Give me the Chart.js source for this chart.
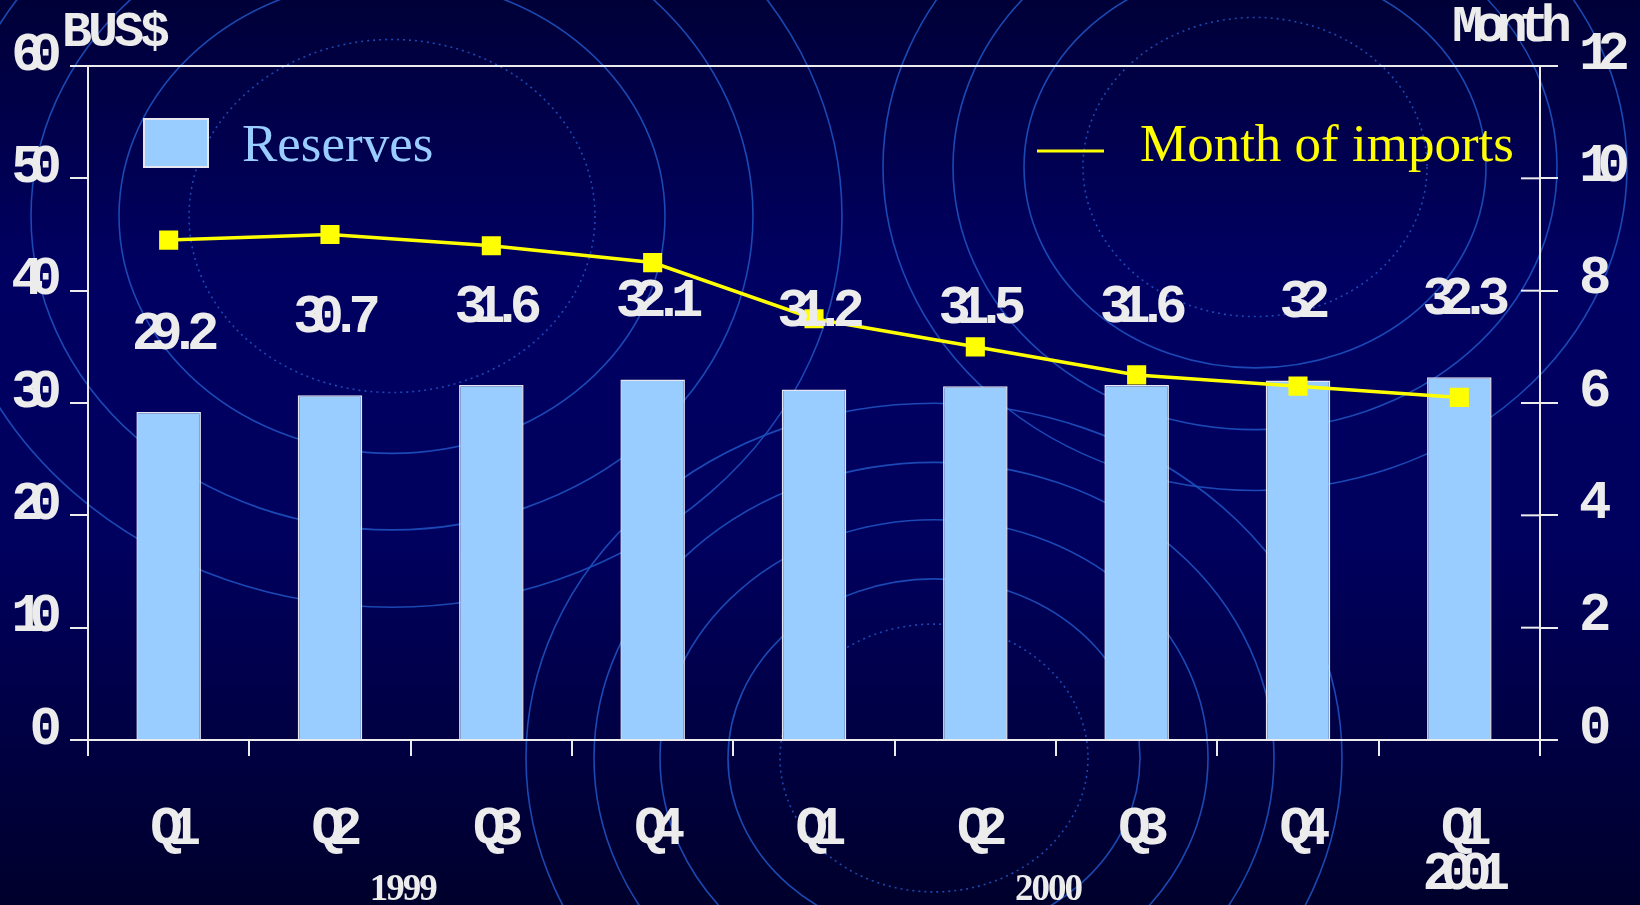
<!DOCTYPE html>
<html><head><meta charset="utf-8">
<script src="https://cdn.jsdelivr.net/npm/chart.js@4"></script>
<style>html,body{margin:0;padding:0;background:#00004a;}canvas{display:block;}</style>
</head><body>
<canvas id="c" width="1640" height="905"></canvas>
<script>
// ---- data ----
const categories = ['Q1','Q2','Q3','Q4','Q1','Q2','Q3','Q4',['Q1','2001']];
const reserves = [29.2,30.7,31.6,32.1,31.2,31.5,31.6,32,32.3];
const monthsOfImports = [8.9,9.0,8.8,8.5,7.5,7.0,6.5,6.3,6.1];
const leftTickValues = [0,10,20,30,40,50,60];
const rightTickValues = [0,2,4,6,8,10,12];
const yearLabels = ['1999','2000'];
const yearBetween = [[1,2],[5,6]];
const leftTitle = 'BUS$';
const rightTitle = 'Month';
const seriesNames = ['Reserves','Month of imports'];

const WHITE = '#ececec';
const FSIZE = 54;
const MONO = 'bold ' + FSIZE + 'px "Liberation Mono"';
const SPACING = '-14px';

const bgPlugin = {
  id:'bg',
  beforeDraw(chart){
    const ctx = chart.ctx, W = chart.width, H = chart.height;
    ctx.save();
    ctx.letterSpacing = '0px';
    const g = ctx.createLinearGradient(0,0,0,H);
    g.addColorStop(0,'#000038');
    g.addColorStop(0.3,'#000062');
    g.addColorStop(0.6,'#00005e');
    g.addColorStop(1,'#00002c');
    ctx.fillStyle = g; ctx.fillRect(0,0,W,H);
    const groups = [
      {cx:392, cy:216, dotted:203, solid:[273,361,450]},
      {cx:1255, cy:167, dotted:172, solid:[231,302,372]},
      {cx:934, cy:758, dotted:154, solid:[206,274,340,408]}
    ];
    ctx.strokeStyle = 'rgba(30,80,190,0.9)';
    ctx.lineWidth = 1.6;
    groups.forEach(gr=>{
      ctx.setLineDash([2,4]);
      ctx.beginPath(); ctx.ellipse(gr.cx,gr.cy,gr.dotted,gr.dotted/1.15,0,0,Math.PI*2); ctx.stroke();
      ctx.setLineDash([]);
      gr.solid.forEach(r=>{ ctx.beginPath(); ctx.ellipse(gr.cx,gr.cy,r,r/1.15,0,0,Math.PI*2); ctx.stroke(); });
    });
    ctx.restore();
    ctx.letterSpacing = SPACING;
  },
  afterDraw(chart){ chart.ctx.letterSpacing = '0px'; }
};

const framePlugin = {
  id:'frame',
  afterDraw(chart){
    const ctx = chart.ctx, a = chart.chartArea;
    const y2 = chart.scales.y2;
    ctx.save();
    ctx.letterSpacing = '0px';
    ctx.strokeStyle = WHITE; ctx.lineWidth = 2;
    ctx.beginPath(); ctx.moveTo(a.left, a.top); ctx.lineTo(a.right, a.top); ctx.stroke();
    y2.ticks.forEach(t=>{
      const py = y2.getPixelForValue(t.value);
      ctx.beginPath(); ctx.moveTo(a.right-19, py); ctx.lineTo(a.right, py); ctx.stroke();
    });
    // titles
    ctx.fillStyle = WHITE;
    ctx.textBaseline = 'middle';
    ctx.font = 'bold 50px "Liberation Mono"';
    ctx.letterSpacing = '-4px';
    ctx.textAlign = 'left';
    ctx.fillText(leftTitle, 62, 33);
    ctx.font = 'bold 52px "Liberation Mono"';
    ctx.letterSpacing = '-9px';
    ctx.textAlign = 'left';
    ctx.fillText(rightTitle, 1452, 28);
    // year labels
    const x = chart.scales.x;
    ctx.letterSpacing = '-2px';
    ctx.font = 'bold 37px "Liberation Serif"';
    ctx.textAlign = 'center';
    yearLabels.forEach((t,i)=>{
      const px = (x.getPixelForValue(yearBetween[i][0]) + x.getPixelForValue(yearBetween[i][1]))/2;
      ctx.fillText(t, px - 8, 890);
    });
    // legend
    ctx.letterSpacing = '0px';
    const barDs = chart.data.datasets[0], lineDs = chart.data.datasets[1];
    ctx.fillStyle = barDs.backgroundColor; ctx.strokeStyle = barDs.borderColor; ctx.lineWidth = 2;
    ctx.fillRect(144,119,64,48); ctx.strokeRect(144,119,64,48);
    ctx.font = '53px "Liberation Serif"';
    ctx.textAlign = 'left';
    ctx.fillStyle = '#99ccff';
    ctx.fillText(barDs.label, 242, 147);
    ctx.strokeStyle = lineDs.borderColor; ctx.lineWidth = 3;
    ctx.beginPath(); ctx.moveTo(1037,151); ctx.lineTo(1104,151); ctx.stroke();
    ctx.fillStyle = '#ffff00';
    ctx.fillText(lineDs.label, 1140, 147);
    ctx.restore();
  }
};

const labelPlugin = {
  id:'vals',
  afterDatasetsDraw(chart){
    const ctx = chart.ctx;
    const meta = chart.getDatasetMeta(0);
    ctx.save();
    ctx.font = MONO; ctx.fillStyle = WHITE;
    ctx.letterSpacing = SPACING;
    ctx.textAlign = 'center'; ctx.textBaseline = 'middle';
    meta.data.forEach((bar,i)=>{
      ctx.fillText(String(reserves[i]), bar.x, bar.y - 77);
    });
    ctx.restore();
  }
};

const tickFont = {family:'"Liberation Mono"', size:FSIZE, weight:'bold'};

new Chart(document.getElementById('c'), {
  data:{
    labels:categories,
    datasets:[
      {type:'bar', label:seriesNames[0], data:reserves, yAxisID:'y', order:2,
       backgroundColor:'#99ccff', borderColor:'#e6e6f0', borderWidth:1.5,
       categoryPercentage:1, barPercentage:0.4},
      {type:'line', label:seriesNames[1], data:monthsOfImports, yAxisID:'y2', order:1,
       borderColor:'#ffff00', borderWidth:3.5, tension:0,
       pointStyle:'rect', pointRadius:13.5, pointHoverRadius:13.5,
       pointBackgroundColor:'#ffff00', pointBorderColor:'#ffff00', pointBorderWidth:0}
    ]
  },
  options:{
    responsive:false, animation:false, devicePixelRatio:1,
    layout:{padding:{top:66, left:0, right:0, bottom:0}},
    plugins:{legend:{display:false}, tooltip:{enabled:false}},
    scales:{
      x:{
        offset:true,
        grid:{display:true, offset:true, drawOnChartArea:false, tickLength:16, color:WHITE, lineWidth:2},
        border:{display:true, color:WHITE, width:2},
        ticks:{color:WHITE, font:Object.assign({lineHeight:0.83}, tickFont), padding:52, maxRotation:0, autoSkip:false},
        afterFit(s){ s.height = 905 - 740; }
      },
      y:{
        position:'left', min:0, max:60,
        afterBuildTicks(s){ s.ticks = leftTickValues.map(v=>({value:v})); },
        grid:{drawOnChartArea:false, tickLength:18, color:WHITE, lineWidth:2},
        border:{display:true, color:WHITE, width:2},
        ticks:{color:WHITE, font:tickFont, padding:22, labelOffset:-10},
        afterFit(s){ s.width = 88; }
      },
      y2:{
        position:'right', min:0, max:12,
        afterBuildTicks(s){ s.ticks = rightTickValues.map(v=>({value:v})); },
        grid:{drawOnChartArea:false, tickLength:18, color:WHITE, lineWidth:2},
        border:{display:true, color:WHITE, width:2},
        ticks:{color:WHITE, font:tickFont, padding:21, labelOffset:-11},
        afterFit(s){ s.width = 100; }
      }
    }
  },
  plugins:[bgPlugin, labelPlugin, framePlugin]
});
</script>
</body></html>
